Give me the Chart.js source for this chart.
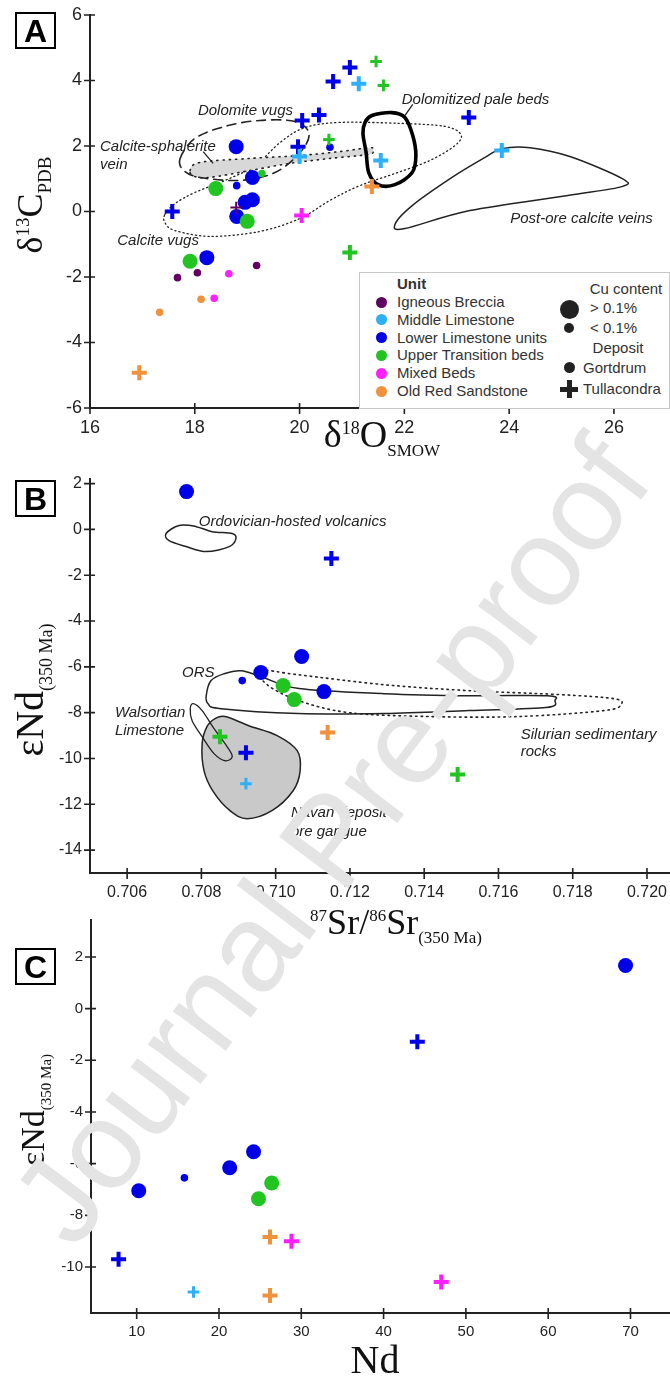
<!DOCTYPE html>
<html>
<head>
<meta charset="utf-8">
<script src="https://cdn.jsdelivr.net/npm/chart.js@4.4.0/dist/chart.umd.min.js"></script>
<style>
  body { margin:0; width:670px; height:1380px; position:relative; background:#fff; overflow:hidden; font-family:"Liberation Sans", Arial, sans-serif; }
  canvas { position:absolute; left:0; }
  .box { position:absolute; border:2px solid #000; width:41px; height:37px; box-sizing:border-box; font:bold 32px "Liberation Sans", Arial; text-align:center; line-height:35px; }
  .ttl { position:absolute; font-family:"Liberation Serif", "Times New Roman", serif; color:#111; white-space:nowrap; line-height:1; transform:translate(-50%,-50%); }
  .rot { transform:translate(-50%,-50%) rotate(-90deg); }
  .lg { position:absolute; font-size:15px; color:#333; line-height:18px; white-space:nowrap; }
  .dot { position:absolute; border-radius:50%; }
</style>
</head>
<body>
<canvas id="chartA" width="670" height="465" style="top:0"></canvas>
<canvas id="chartB" width="670" height="440" style="top:465px"></canvas>
<canvas id="chartC" width="670" height="475" style="top:905px"></canvas>

<div class="box" style="left:15px;top:12px">A</div>
<div class="box" style="left:15px;top:480px">B</div>
<div class="box" style="left:15px;top:948px">C</div>

<div class="ttl rot" style="left:33px;top:205px;font-size:36px">&delta;<sup style="font-size:19px">13</sup>C<sub style="font-size:19px">PDB</sub></div>
<div class="ttl" style="left:382px;top:437px;font-size:38px">&delta;<sup style="font-size:18px">18</sup>O<sub style="font-size:17px">SMOW</sub></div>
<div class="ttl rot" style="left:32px;top:690px;font-size:40px">&epsilon;Nd<sub style="font-size:18px">(350 Ma)</sub></div>
<div class="ttl" style="left:396px;top:925px;font-size:36px"><sup style="font-size:17px">87</sup>Sr/<sup style="font-size:17px">86</sup>Sr<sub style="font-size:17px">(350 Ma)</sub></div>
<div class="ttl rot" style="left:35px;top:1110px;font-size:34px">&epsilon;Nd<sub style="font-size:15px">(350 Ma)</sub></div>
<div class="ttl" style="left:375px;top:1360px;font-size:40px">Nd</div>

<div id="legend" style="position:absolute;left:359px;top:272px;width:311px;height:137px;border:1px solid #c8c8c8;background:#fff;box-sizing:border-box;"></div>

<div style="position:absolute;left:330px;top:840px;transform:translate(-50%,-50%) rotate(-53deg);font:125px 'Liberation Sans', Arial;color:#e4e4e4;white-space:nowrap;line-height:1;">Journal Pre-proof</div>

<script>
// ---------------- data: panel A (d18O vs d13C) ----------------
var aO18 = [18.79, 19.10, 19.28, 18.40, 18.80, 19.10, 18.96, 18.80, 19.00, 20.58, 17.91, 18.23, 17.67, 18.05, 19.18, 18.65, 18.37, 18.12, 17.33,
            18.79, 17.57, 20.05, 20.37, 19.97, 20.00, 20.56, 20.64, 20.04, 20.96, 21.46, 21.13, 21.60, 23.23, 21.55, 21.38, 23.86, 20.96, 16.94];
var aC13 = [1.98, 1.04, 1.16, 0.70, 0.79, 0.36, 0.28, -0.15, -0.30, 1.96, -1.52, -1.41, -2.02, -1.87, -1.65, -1.90, -2.65, -2.68, -3.08,
            0.12, 0.00, 2.78, 2.95, 1.98, 1.68, 2.20, 3.97, -0.12, 4.40, 4.58, 3.90, 3.85, 2.87, 1.56, 0.76, 1.86, -1.25, -4.92];
var aUnit = ["LL", "LL", "UT", "UT", "LL", "LL", "LL", "LL", "UT", "LL", "UT", "LL", "IB", "IB", "IB", "MB", "MB", "ORS", "ORS",
             "IB", "LL", "LL", "LL", "LL", "ML", "UT", "LL", "MB", "LL", "UT", "ML", "UT", "LL", "ML", "ORS", "ML", "UT", "ORS"];
var aDeposit = ["G", "G", "G", "G", "G", "G", "G", "G", "G", "G", "G", "G", "G", "G", "G", "G", "G", "G", "G",
                "T", "T", "T", "T", "T", "T", "T", "T", "T", "T", "T", "T", "T", "T", "T", "T", "T", "T", "T"];
var aCu = ["H", "H", "L", "H", "L", "H", "H", "H", "H", "L", "H", "H", "L", "L", "L", "L", "L", "L", "L",
           "L", "H", "H", "H", "H", "H", "L", "H", "H", "H", "L", "H", "L", "H", "H", "H", "H", "H", "H"];
var aXTicks = [16, 18, 20, 22, 24, 26];
var aYTicks = [-6, -4, -2, 0, 2, 4, 6];

// fields in panel A
var aDolomiteVugs = [[17.72,1.62],[18.00,2.23],[18.58,2.60],[19.24,2.78],[19.91,2.75],[20.18,2.38],[20.01,1.80],[19.53,1.19],[18.86,0.95],[18.10,1.04],[17.79,1.25]];
var aSphaleriteVein = [[17.91,1.25],[18.10,1.50],[19.05,1.62],[20.01,1.71],[20.77,1.83],[21.34,1.95],[21.40,1.86],[21.31,1.74],[20.58,1.62],[19.82,1.47],[19.05,1.25],[18.29,1.04],[18.00,1.07]];
var aCalciteVugs = [[17.43,-0.09],[17.62,0.24],[18.00,0.58],[18.58,0.95],[19.15,1.40],[19.63,2.11],[20.10,2.56],[20.77,2.72],[21.92,2.69],[22.77,2.60],[23.08,2.35],[22.97,2.02],[22.49,1.56],[21.82,1.16],[21.15,0.79],[20.58,0.34],[20.01,-0.21],[19.24,-0.61],[18.29,-0.76],[17.62,-0.58],[17.43,-0.34]];
var aPaleBeds = [[21.38,2.93],[21.76,3.02],[22.01,2.87],[22.16,2.32],[22.22,1.71],[22.15,1.19],[21.82,0.82],[21.50,0.82],[21.32,1.19],[21.27,1.80],[21.21,2.38],[21.25,2.72]];
var aPostOre = [[23.86,1.92],[24.40,1.95],[25.16,1.68],[26.15,1.01],[26.15,0.76],[25.12,0.49],[23.25,0.03],[22.01,-0.52],[21.82,-0.40],[22.15,0.18],[22.91,1.04],[23.54,1.65]];

// ---------------- data: panel B (87Sr/86Sr vs eNd) ----------------
var bSr = [0.7076, 0.7107, 0.7096, 0.7091, 0.7102, 0.7113, 0.7105, 0.7115, 0.7085, 0.7092, 0.7092, 0.7114, 0.7149];
var bNd = [1.65, -5.55, -6.25, -6.60, -6.82, -7.08, -7.43, -1.27, -9.05, -9.75, -11.10, -8.87, -10.70];
var bUnit = ["LL", "LL", "LL", "LL", "UT", "LL", "UT", "LL", "UT", "LL", "ML", "ORS", "UT"];
var bDeposit = ["G", "G", "G", "G", "G", "G", "G", "T", "T", "T", "T", "T", "T"];
var bCu = ["H", "H", "H", "L", "H", "H", "H", "H", "H", "H", "L", "H", "H"];
var bXTicks = [0.706, 0.708, 0.710, 0.712, 0.714, 0.716, 0.718, 0.720];
var bYTicks = [-14, -12, -10, -8, -6, -4, -2, 0, 2];

var bOrdovician = [[0.70705,-0.18],[0.70740,0.17],[0.70786,0.12],[0.70829,-0.10],[0.70883,-0.18],[0.70893,-0.40],[0.70875,-0.75],[0.70813,-0.97],[0.70759,-0.75],[0.70713,-0.49]];
var bORS = [[0.70813,-7.26],[0.70826,-6.60],[0.70861,-6.30],[0.70907,-6.17],[0.70961,-6.43],[0.71063,-6.95],[0.71292,-7.17],[0.71521,-7.26],[0.71731,-7.26],[0.71752,-7.48],[0.71728,-7.78],[0.71521,-7.91],[0.71292,-8.04],[0.71060,-8.04],[0.70853,-7.83],[0.70818,-7.61]];
var bSilurian = [[0.70961,-6.17],[0.71063,-6.35],[0.71292,-6.78],[0.71521,-7.04],[0.71763,-7.21],[0.71911,-7.39],[0.71930,-7.65],[0.71884,-7.91],[0.71655,-8.17],[0.71413,-8.17],[0.71198,-8.00],[0.71063,-7.48],[0.70977,-6.78]];
var bWalsortian = [[0.70778,-7.61],[0.70802,-7.91],[0.70834,-8.70],[0.70869,-9.48],[0.70883,-9.92],[0.70864,-10.10],[0.70834,-9.79],[0.70802,-9.05],[0.70775,-8.35],[0.70770,-7.83]];
var bNavan = [[0.70864,-8.17],[0.70928,-8.57],[0.71004,-9.00],[0.71058,-9.66],[0.71066,-10.53],[0.71047,-11.41],[0.70990,-12.28],[0.70923,-12.63],[0.70877,-12.28],[0.70832,-11.45],[0.70807,-10.53],[0.70802,-9.35],[0.70815,-8.61],[0.70837,-8.26]];

// ---------------- data: panel C (Nd vs eNd) ----------------
var cNd = [10.25, 15.8, 21.3, 24.2, 26.4, 24.8, 69.4, 26.2, 28.8, 7.8, 16.9, 26.2, 47.0, 44.1];
var cEps = [-7.05, -6.55, -6.16, -5.54, -6.75, -7.36, 1.67, -8.84, -9.00, -9.70, -10.97, -11.10, -10.58, -1.28];
var cUnit = ["LL", "LL", "LL", "LL", "UT", "UT", "LL", "ORS", "MB", "LL", "ML", "ORS", "MB", "LL"];
var cDeposit = ["G", "G", "G", "G", "G", "G", "G", "T", "T", "T", "T", "T", "T", "T"];
var cCu = ["H", "L", "H", "H", "H", "H", "H", "H", "H", "H", "L", "H", "H", "H"];
var cXTicks = [10, 20, 30, 40, 50, 60, 70];
var cYTicks = [-10, -8, -6, -4, -2, 0, 2];

var unitNames = ["Igneous Breccia", "Middle Limestone", "Lower Limestone units", "Upper Transition beds", "Mixed Beds", "Old Red Sandstone"];
var unitKeys = ["IB", "ML", "LL", "UT", "MB", "ORS"];
var unitColors = { IB: "#600060", ML: "#2eb0f8", LL: "#0000e8", UT: "#22c422", MB: "#ff1eff", ORS: "#f0923c" };

Chart.defaults.font.family = "'Liberation Sans', Arial, sans-serif";
Chart.defaults.color = "#222";

function pointSet(xs, ys, units, deps, cus) {
  return {
    data: xs.map(function (x, i) { return { x: x, y: ys[i] }; }),
    pointStyle: function (c) { return deps[c.dataIndex] === "T" ? "cross" : "circle"; },
    pointRadius: function (c) {
      var i = c.dataIndex;
      if (deps[i] === "T") return cus[i] === "H" ? 7.5 : 5.8;
      return cus[i] === "H" ? 7.5 : 3.8;
    },
    pointBorderWidth: function (c) {
      var i = c.dataIndex;
      if (deps[i] !== "T") return 0;
      if (units[i] === "IB") return 2;
      return cus[i] === "H" ? 4 : 3;
    },
    pointBackgroundColor: function (c) { return unitColors[units[c.dataIndex]]; },
    pointBorderColor: function (c) { return unitColors[units[c.dataIndex]]; },
    showLine: false
  };
}

function axis(min, max, tickVals, fmt, pad, fsize, size) {
  return {
    type: "linear", min: min, max: max,
    grid: { display: false, drawTicks: false },
    border: { display: true, color: "#222", width: 2 },
    ticks: { font: { size: fsize }, color: "#222", padding: pad, autoSkip: false, maxRotation: 0, callback: fmt },
    afterBuildTicks: function (s) { s.ticks = tickVals.map(function (v) { return { value: v }; }); },
    afterFit: function (s) {
      if (s.isHorizontal()) s.height = size; else s.width = size;
      s.paddingLeft = 0; s.paddingRight = 0; s.paddingTop = 0; s.paddingBottom = 0;
    }
  };
}

// closed smooth outline through points (in pixel space)
function closedCurve(ctx, p) {
  var n = p.length;
  ctx.moveTo(p[0][0], p[0][1]);
  for (var i = 0; i < n; i++) {
    var p0 = p[(i - 1 + n) % n], p1 = p[i], p2 = p[(i + 1) % n], p3 = p[(i + 2) % n];
    ctx.bezierCurveTo(p1[0] + (p2[0] - p0[0]) / 6, p1[1] + (p2[1] - p0[1]) / 6,
                      p2[0] - (p3[0] - p1[0]) / 6, p2[1] - (p3[1] - p1[1]) / 6, p2[0], p2[1]);
  }
  ctx.closePath();
}

function fieldPlugin(shapes, lines, labels) {
  return {
    id: "fields",
    beforeDatasetsDraw: function (chart) {
      var ctx = chart.ctx, xs = chart.scales.x, ys = chart.scales.y;
      shapes.forEach(function (s) {
        var px = s.pts.map(function (q) { return [xs.getPixelForValue(q[0]), ys.getPixelForValue(q[1])]; });
        ctx.save();
        ctx.beginPath();
        closedCurve(ctx, px);
        if (s.fill) { ctx.fillStyle = s.fill; ctx.fill(); }
        ctx.setLineDash(s.dash || []);
        ctx.lineWidth = s.width;
        ctx.strokeStyle = s.stroke || "#222";
        ctx.lineCap = "round";
        ctx.stroke();
        ctx.restore();
      });
      lines.forEach(function (l) {
        ctx.save();
        ctx.beginPath();
        ctx.moveTo(xs.getPixelForValue(l[0][0]), ys.getPixelForValue(l[0][1]));
        ctx.lineTo(xs.getPixelForValue(l[1][0]), ys.getPixelForValue(l[1][1]));
        ctx.lineWidth = 1.3;
        ctx.strokeStyle = "#222";
        ctx.stroke();
        ctx.restore();
      });
      ctx.save();
      ctx.font = "italic 15px 'Liberation Sans', Arial";
      ctx.fillStyle = "#222";
      ctx.textBaseline = "middle";
      labels.forEach(function (t) {
        ctx.fillText(t[0], xs.getPixelForValue(t[1]), ys.getPixelForValue(t[2]));
      });
      ctx.restore();
    },
    afterDraw: function (chart) {
      // ticks crossing the axes
      var ctx = chart.ctx, a = chart.chartArea;
      ctx.save();
      ctx.strokeStyle = "#222";
      ctx.lineWidth = 1.6;
      ctx.beginPath();
      chart.scales.x.ticks.forEach(function (t) {
        var x = chart.scales.x.getPixelForValue(t.value);
        ctx.moveTo(x, a.bottom - 5); ctx.lineTo(x, a.bottom + 6);
      });
      chart.scales.y.ticks.forEach(function (t) {
        var y = chart.scales.y.getPixelForValue(t.value);
        ctx.moveTo(a.left - 6, y); ctx.lineTo(a.left + 5, y);
      });
      ctx.stroke();
      ctx.restore();
    }
  };
}

function makeChart(id, set, xAxis, yAxis, top, plugin) {
  return new Chart(id, {
    type: "scatter",
    data: { datasets: [set] },
    options: {
      responsive: false, animation: false, events: [],
      layout: { autoPadding: false, padding: { top: top, right: 0, left: 0, bottom: 0 } },
      plugins: { legend: { display: false }, tooltip: { enabled: false } },
      scales: { x: xAxis, y: yAxis }
    },
    plugins: [plugin]
  });
}

var plain = function (v) { return String(v); };

// ---------------- panel A ----------------
makeChart("chartA",
  pointSet(aO18, aC13, aUnit, aDeposit, aCu),
  axis(16, 27.07, aXTicks, plain, 9, 18, 57),
  axis(-6, 6, aYTicks, plain, 8, 18, 90),
  15,
  fieldPlugin(
    [
      { pts: aCalciteVugs, width: 1.3, dash: [1.2, 3] },
      { pts: aSphaleriteVein, width: 1.6, dash: [1.2, 5], fill: "#d8d8d8" },
      { pts: aDolomiteVugs, width: 1.6, dash: [9, 6] },
      { pts: aPostOre, width: 1.5 },
      { pts: aPaleBeds, width: 3.6, stroke: "#000" }
    ],
    [[[18.16, 1.83], [18.35, 1.47]], [[22.01, 2.93], [22.16, 3.27]]],
    [
      ["Dolomite vugs", 18.06, 3.08],
      ["Calcite-sphalerite", 16.19, 1.98],
      ["vein", 16.19, 1.44],
      ["Calcite vugs", 16.52, -0.89],
      ["Dolomitized pale beds", 21.95, 3.42],
      ["Post-ore calcite veins", 24.02, -0.21]
    ]
  ));

// ---------------- panel B ----------------
makeChart("chartB",
  pointSet(bSr, bNd, bUnit, bDeposit, bCu),
  axis(0.705, 0.72062, bXTicks, function (v) { return v.toFixed(3); }, 10, 16, 32),
  axis(-15, 2.2, bYTicks, plain, 8, 16, 90),
  14,
  fieldPlugin(
    [
      { pts: bNavan, width: 1.5, fill: "#c9c9c9" },
      { pts: bOrdovician, width: 1.5 },
      { pts: bSilurian, width: 1.6, dash: [1.5, 4] },
      { pts: bORS, width: 1.5 },
      { pts: bWalsortian, width: 1.3 }
    ],
    [],
    [
      ["Ordovician-hosted volcanics", 0.70793, 0.32],
      ["ORS", 0.70748, -6.27],
      ["Walsortian", 0.70567, -8.02],
      ["Limestone", 0.70567, -8.80],
      ["Silurian sedimentary", 0.71660, -8.98],
      ["rocks", 0.71660, -9.72],
      ["Navan deposit", 0.71041, -12.39],
      ["ore gangue", 0.71041, -13.21]
    ]
  ));

// ---------------- panel C ----------------
makeChart("chartC",
  pointSet(cNd, cEps, cUnit, cDeposit, cCu),
  axis(4.45, 74.8, cXTicks, plain, 10, 15, 67),
  axis(-11.78, 3.43, cYTicks, plain, 8, 15, 91),
  15,
  fieldPlugin([], [], []));

// ---------------- legend of panel A ----------------
var lg = document.getElementById("legend");
function lgText(txt, left, cy, extra) {
  var d = document.createElement("div");
  d.className = "lg";
  d.textContent = txt;
  d.style.left = left + "px";
  d.style.top = (cy - 9) + "px";
  if (extra) Object.assign(d.style, extra);
  lg.appendChild(d);
  return d;
}
function lgDot(cx, cy, r, color) {
  var d = document.createElement("div");
  d.className = "dot";
  d.style.left = (cx - r) + "px";
  d.style.top = (cy - r) + "px";
  d.style.width = d.style.height = (2 * r) + "px";
  d.style.background = color;
  lg.appendChild(d);
}
lgText("Unit", 37, 11, { fontWeight: "bold" });
unitKeys.forEach(function (k, i) {
  var cy = 29 + i * 17.8;
  lgDot(21, cy, 5.5, unitColors[k]);
  lgText(unitNames[i], 37, cy);
});
lgText("Cu content", 266, 16, { transform: "translateX(-50%)" });
lgDot(209, 36, 9.5, "#222");
lgText("> 0.1%", 230, 35);
lgDot(209, 55, 5, "#222");
lgText("< 0.1%", 230, 55);
lgText("Deposit", 258, 75, { transform: "translateX(-50%)" });
lgDot(209, 94, 5.5, "#222");
lgText("Gortdrum", 223, 95);
var cr1 = document.createElement("div");
cr1.style.cssText = "position:absolute;left:200px;top:113.5px;width:18px;height:5px;background:#222";
var cr2 = document.createElement("div");
cr2.style.cssText = "position:absolute;left:206.5px;top:107px;width:5px;height:18px;background:#222";
lg.appendChild(cr1); lg.appendChild(cr2);
lgText("Tullacondra", 223, 116);
</script>
</body>
</html>
